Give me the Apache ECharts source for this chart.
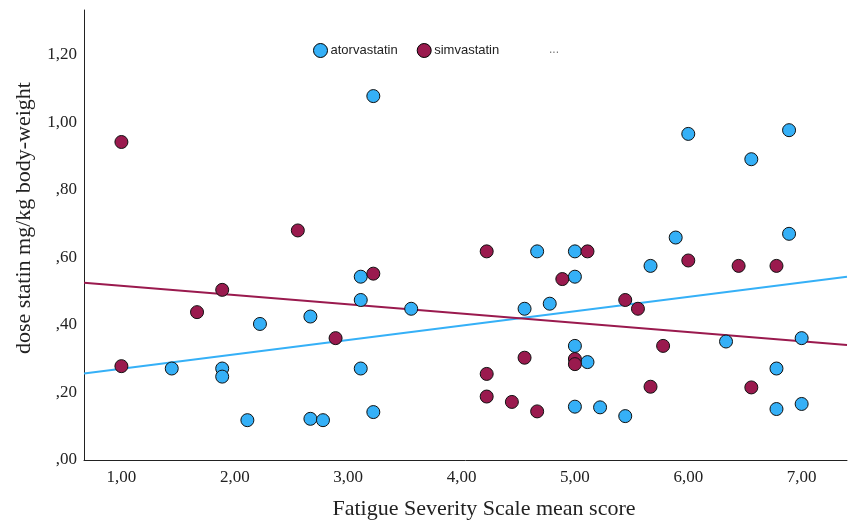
<!DOCTYPE html>
<html>
<head>
<meta charset="utf-8">
<script src="https://cdn.jsdelivr.net/npm/echarts@6/dist/echarts.min.js"></script>
<style>
html,body{margin:0;padding:0;background:#fff;}
#chart{width:849px;height:520px;}
</style>
</head>
<body>
<div id="chart"></div>
<script>
// Fatigue Severity Scale mean score (x) and dose statin mg/kg body-weight (y)
const atorvaX = [3.222,3.111,3.111,2.222,2.667,1.444,1.889,1.889,3.111,2.111,2.667,2.778,3.222,3.556,4.667,5.0,5.0,4.556,4.778,5.0,5.111,5.0,5.222,5.444,6.0,6.889,6.556,5.889,6.889,5.667,6.333,7.0,6.778,6.778,7.0];
const atorvaY = [1.078,0.543,0.474,0.403,0.425,0.271,0.271,0.247,0.271,0.118,0.122,0.118,0.142,0.448,0.618,0.618,0.543,0.448,0.463,0.338,0.290,0.158,0.156,0.130,0.966,0.977,0.891,0.659,0.670,0.575,0.351,0.361,0.271,0.151,0.166];
const simvaX = [1.0,2.556,3.222,1.889,1.667,2.889,1.0,4.222,5.111,4.889,5.444,4.556,5.0,5.0,4.222,4.222,4.444,4.667,6.0,6.444,6.778,5.556,5.778,5.667,6.556];
const simvaY = [0.942,0.680,0.552,0.504,0.438,0.361,0.278,0.618,0.618,0.536,0.474,0.303,0.299,0.284,0.255,0.188,0.172,0.144,0.591,0.575,0.575,0.448,0.338,0.217,0.215];
const seriesNames = ['atorvastatin','simvastatin'];
const xTicks = [1,2,3,4,5,6,7];
const yTicks = [0,0.2,0.4,0.6,0.8,1.0,1.2];
const xRange = [0.67, 7.40];
const yRange = [0, 1.333];

const BLUE = '#35b0f7', MAROON = '#9a1a4e';

function pairs(xs, ys){ return xs.map((x,i)=>[x, ys[i]]); }
function fit(xs, ys){
  const n = xs.length;
  const mx = xs.reduce((a,b)=>a+b,0)/n, my = ys.reduce((a,b)=>a+b,0)/n;
  let sxy=0, sxx=0;
  for(let i=0;i<n;i++){ sxy+=(xs[i]-mx)*(ys[i]-my); sxx+=(xs[i]-mx)*(xs[i]-mx); }
  const b = sxy/sxx, a = my - b*mx;
  return [[xRange[0], a+b*xRange[0]],[xRange[1], a+b*xRange[1]]];
}
function fmt(v){
  const s = v.toFixed(2).replace('.',',');
  return s.startsWith('0') ? s.slice(1) : s;
}

const chart = echarts.init(document.getElementById('chart'), null, {renderer:'canvas'});
const serif = '"Liberation Serif","Times New Roman",serif';
chart.setOption({
  animation:false,
  backgroundColor:'#fff',
  grid:{left:84, right:2, top:10, bottom:60, containLabel:false},
  legend:{
    top:43, left:313, padding:0, itemWidth:14, itemHeight:14, itemGap:19,
    icon:'circle',
    textStyle:{fontFamily:'"Liberation Sans",Arial,sans-serif', fontSize:13, color:'#222', padding:[0,0,0,-2]},
    data:[
      {name:seriesNames[0], itemStyle:{color:BLUE, borderColor:'#000', borderWidth:1}},
      {name:seriesNames[1], itemStyle:{color:MAROON, borderColor:'#000', borderWidth:1}}
    ]
  },
  xAxis:{
    type:'value', min:xRange[0], max:xRange[1],
    splitLine:{show:false},
    axisLine:{show:true, onZero:false, lineStyle:{color:'#222', width:1}},
    axisTick:{show:false},
    axisLabel:{customValues:xTicks, formatter:fmt, fontFamily:serif, fontSize:17, color:'#222', margin:9}
  },
  yAxis:{
    type:'value', min:yRange[0], max:yRange[1],
    splitLine:{show:false},
    axisLine:{show:true, onZero:false, lineStyle:{color:'#222', width:1}},
    axisTick:{show:false},
    axisLabel:{customValues:yTicks, formatter:fmt, fontFamily:serif, fontSize:17, color:'#222', margin:7}
  },
  graphic:[
    {type:'text', style:{text:'Fatigue Severity Scale mean score', x:484, y:509, align:'center', verticalAlign:'middle', font:'22px '+serif, fill:'#222'}},
    {type:'text', x:24, y:218, rotation:Math.PI/2, style:{text:'dose statin mg/kg body-weight', align:'center', verticalAlign:'middle', font:'22px '+serif, fill:'#222'}},
    {type:'text', style:{text:'...', x:554, y:50, align:'center', verticalAlign:'middle', font:'12px "Liberation Sans",Arial,sans-serif', fill:'#777'}}
  ],
  series:[
    {name:seriesNames[0], type:'line', data:fit(atorvaX, atorvaY), showSymbol:false, symbol:'none', lineStyle:{color:BLUE, width:2}, silent:true, z:1},
    {name:seriesNames[1], type:'line', data:fit(simvaX, simvaY), showSymbol:false, symbol:'none', lineStyle:{color:MAROON, width:2}, silent:true, z:1},
    {name:seriesNames[0], type:'scatter', data:pairs(atorvaX, atorvaY), symbolSize:13, itemStyle:{color:BLUE, borderColor:'#111', borderWidth:1, opacity:1}, z:2},
    {name:seriesNames[1], type:'scatter', data:pairs(simvaX, simvaY), symbolSize:13, itemStyle:{color:MAROON, borderColor:'#111', borderWidth:1, opacity:1}, z:2}
  ]
});
</script>
</body>
</html>
